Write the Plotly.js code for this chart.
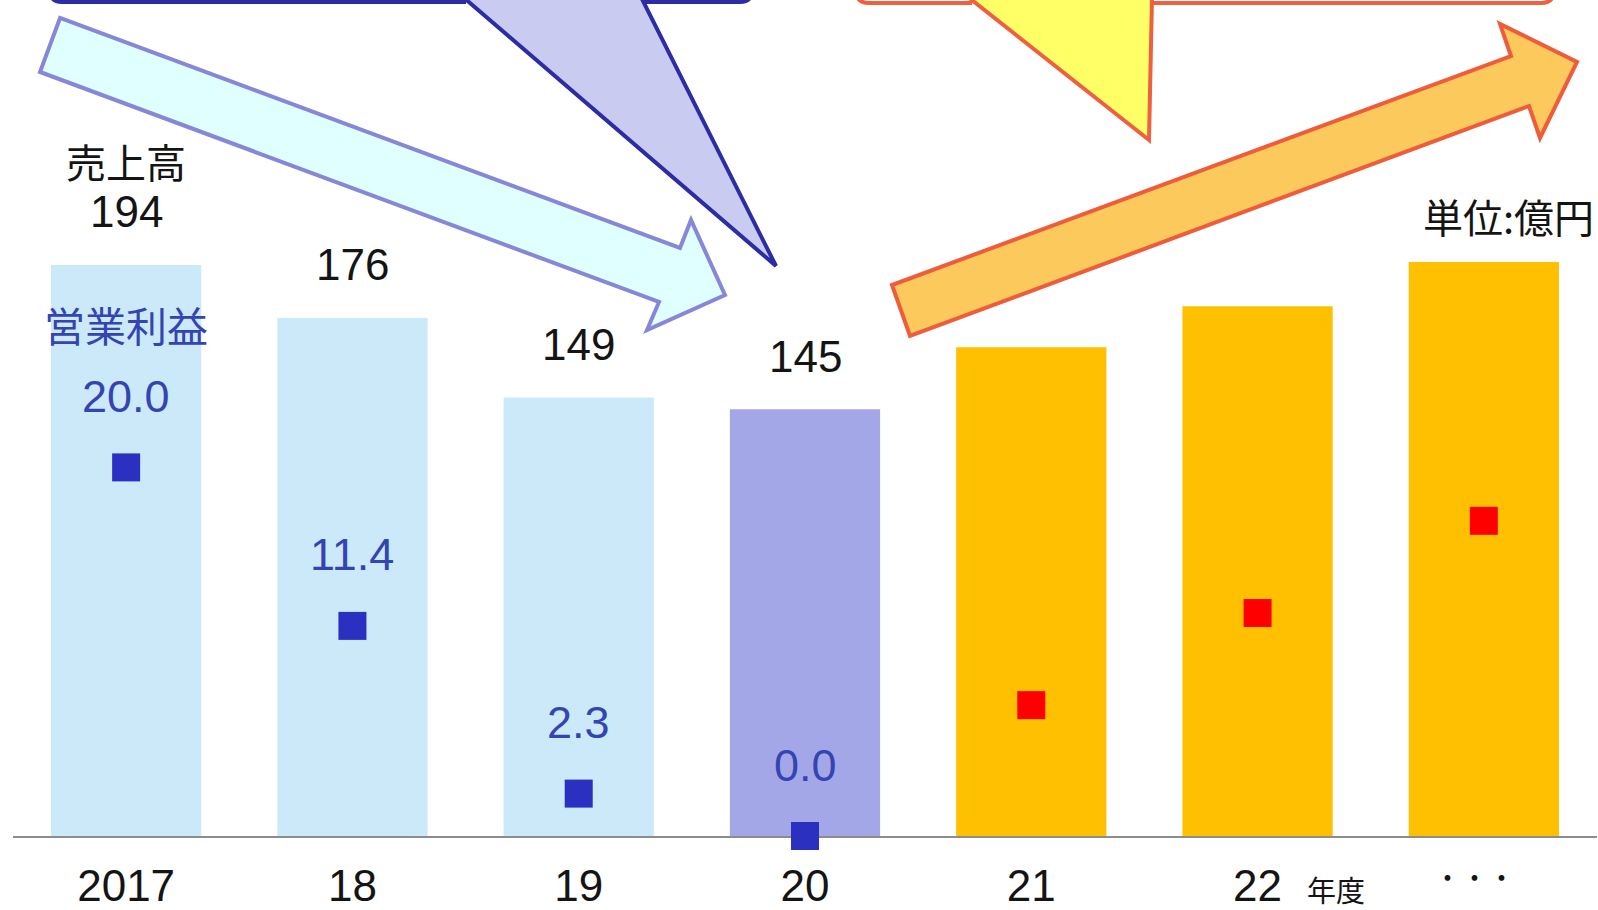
<!DOCTYPE html>
<html><head><meta charset="utf-8">
<script src="https://cdn.plot.ly/plotly-3.0.1.min.js"></script>
<style>html,body{margin:0;padding:0;background:#fff;overflow:hidden}#chart{width:1598px;height:910px}</style>
</head><body><div id="chart"></div>
<script>
// ---- data ----
const categories = ['2017', '2018', '2019', '2020', '2021', '2022', 'future'];
const tickLabels = ['2017', '18', '19', '20', '21', '22', '・・・'];
const sales = [194, 176, 149, 145, 166, 180, 195];
const salesLabels = ['194', '176', '149', '145', '', '', ''];
const profit = [20.0, 11.4, 2.3, 0.0, 7.1, 12.1, 17.1];
const profitLabels = ['20.0', '11.4', '2.3', '0.0', '', '', ''];
const phase = ['past', 'past', 'past', 'now', 'plan', 'plan', 'plan'];

// ---- styles ----
const barColorOf = {past: '#cbe9f9', now: '#a4a7e7', plan: '#fec000'};
const markColorOf = {past: '#2b30c0', now: '#2b30c0', plan: '#ff0000'};
const NUM = 'Liberation Sans, Arial, sans-serif';
const CJK = 'Noto Sans CJK JP, sans-serif';
const BLUE_TXT = '#3444b0';

const W = 1598, H = 910, ML = 13, MR = 1, MT = 0, MB = 74;
const PW = W - ML - MR, PH = H - MT - MB;
const px = x => +((x - ML) / PW).toFixed(5);
const py = y => +((PH + MT - y) / PH).toFixed(5);
function path(cmds) {
  return cmds.map(c => {
    const t = c[0];
    if (t === 'Z') return 'Z';
    const nums = c.slice(1);
    const pairs = [];
    for (let i = 0; i < nums.length; i += 2) pairs.push(px(nums[i]) + ',' + py(nums[i + 1]));
    return t + pairs.join(' ');
  }).join(' ');
}

const traces = [
  {
    type: 'bar', x: categories, y: sales,
    marker: {color: phase.map(p => barColorOf[p])},
    hoverinfo: 'skip', showlegend: false
  },
  {
    type: 'scatter', mode: 'markers', x: categories, y: profit, yaxis: 'y2',
    marker: {symbol: 'square', size: 28, color: phase.map(p => markColorOf[p])},
    cliponaxis: false, hoverinfo: 'skip', showlegend: false
  }
];

// category axis: annotations placed by category index
const annotations = [];
categories.forEach((c, i) => {
  if (salesLabels[i]) annotations.push({x: i, y: sales[i], xref: 'x', yref: 'y', text: salesLabels[i],
    showarrow: false, yshift: 53, yanchor: 'middle', font: {family: NUM, size: 44, color: '#141414'}});
  if (profitLabels[i]) annotations.push({x: i, y: profit[i], xref: 'x', yref: 'y2', text: profitLabels[i],
    showarrow: false, yshift: 71, yanchor: 'middle', font: {family: NUM, size: 45, color: BLUE_TXT}});
});
annotations.push({x: 0, y: sales[0], xref: 'x', yref: 'y', text: '売上高', showarrow: false,
  yshift: 104, yanchor: 'middle', font: {family: CJK, size: 40, color: '#141414'}});
annotations.push({x: 0, y: profit[0], xref: 'x', yref: 'y2', text: '営業利益', showarrow: false,
  yshift: 143, yanchor: 'middle', font: {family: CJK, size: 41, color: BLUE_TXT}});
annotations.push({x: 5, y: py(889), xref: 'x', yref: 'paper', text: '年度', showarrow: false,
  xshift: 78, yanchor: 'middle', font: {family: CJK, size: 29, color: '#141414'}});
annotations.push({x: 6, y: py(877), xref: 'x', yref: 'paper', text: tickLabels[6], showarrow: false,
  xshift: -9, yanchor: 'middle', font: {family: CJK, size: 27, color: '#141414'}});
annotations.push({x: px(1509), y: py(216), xref: 'paper', yref: 'paper', text: '単位:億円', showarrow: false,
  xanchor: 'center', yanchor: 'middle', font: {family: CJK, size: 40, color: '#141414'}});

// ---- decorative arrows & callouts ----
const shapes = [
  {type: 'path', xref: 'paper', yref: 'paper', layer: 'above',
   path: path([['M', 50, -60], ['L', 50, -10], ['Q', 50, 2, 62, 2], ['L', 466, 2], ['M', 640, 2], ['L', 740, 2], ['Q', 752, 2, 752, -10], ['L', 752, -60]]),
   line: {color: '#2c2ca4', width: 4}, fillcolor: 'rgba(0,0,0,0)'},
  {type: 'path', xref: 'paper', yref: 'paper', layer: 'above',
   path: path([['M', 463, -3], ['L', 776, 266], ['L', 641, -3]]),
   line: {color: '#2c2ca4', width: 4}, fillcolor: '#cacbf1'},
  {type: 'path', xref: 'paper', yref: 'paper', layer: 'above',
   path: path([['M', 60, 18], ['L', 680, 248], ['L', 691, 220], ['L', 725, 295], ['L', 647, 330], ['L', 659, 302], ['L', 40, 72], ['Z']]),
   line: {color: '#8787d8', width: 4}, fillcolor: '#e0ffff'},
  {type: 'path', xref: 'paper', yref: 'paper', layer: 'above',
   path: path([['M', 856, -60], ['L', 856, -10], ['Q', 856, 3, 869, 3], ['L', 972, 3], ['M', 1151, 3], ['L', 1541, 3], ['Q', 1554, 3, 1554, -10], ['L', 1554, -60]]),
   line: {color: '#ee6040', width: 4}, fillcolor: 'rgba(0,0,0,0)'},
  {type: 'path', xref: 'paper', yref: 'paper', layer: 'above',
   path: path([['M', 968, -3], ['L', 1149, 140], ['L', 1152, -3]]),
   line: {color: '#ee6040', width: 4}, fillcolor: '#ffff66'},
  {type: 'path', xref: 'paper', yref: 'paper', layer: 'above',
   path: path([['M', 910, 336], ['L', 1529, 106], ['L', 1540, 138], ['L', 1577, 62], ['L', 1500, 24], ['L', 1511, 56], ['L', 892, 285], ['Z']]),
   line: {color: '#ee5c3c', width: 4}, fillcolor: '#fcc95c'}
];

const layout = {
  width: W, height: H,
  margin: {l: ML, r: MR, t: MT, b: MB, pad: 0},
  paper_bgcolor: '#ffffff', plot_bgcolor: '#ffffff',
  bargap: 0.336, showlegend: false, hovermode: false,
  xaxis: {type: 'category', range: [-0.5, 6.5], tickvals: categories,
    ticktext: tickLabels.slice(0, 6).concat(['']),
    showline: true, linecolor: '#8c8c8c', linewidth: 2, showgrid: false, zeroline: false,
    ticks: '', ticklabelstandoff: 10, tickfont: {family: NUM, size: 44, color: '#141414'}, layer: 'below traces', fixedrange: true},
  yaxis: {range: [0, 284], visible: false, fixedrange: true},
  yaxis2: {range: [0, 45.36], overlaying: 'y', visible: false, fixedrange: true},
  annotations: annotations,
  shapes: shapes
};

Plotly.newPlot('chart', traces, layout, {displayModeBar: false, staticPlot: true});
</script>
</body></html>
